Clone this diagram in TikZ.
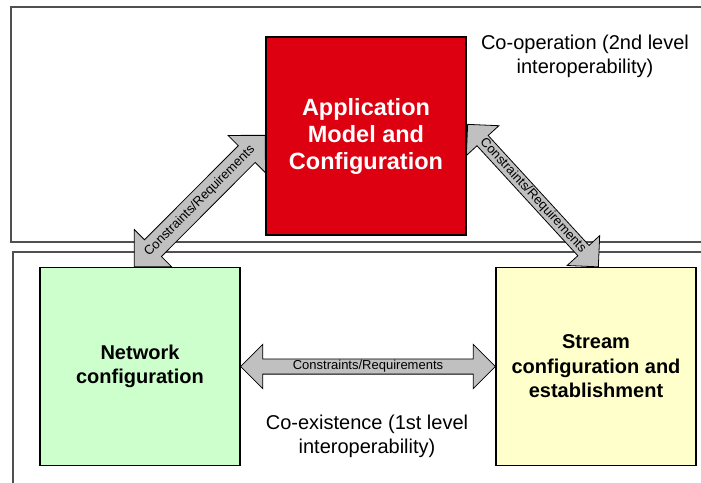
\documentclass[tikz,border=0pt]{standalone}
\usepackage{fontspec}
\setmainfont{Liberation Sans}
\usetikzlibrary{shapes.arrows,calc}
\definecolor{appred}{RGB}{221,0,17}
\definecolor{netgreen}{RGB}{204,255,204}
\definecolor{streamyellow}{RGB}{255,255,204}
\definecolor{arrowgray}{RGB}{192,192,192}
\definecolor{framegray}{RGB}{80,80,80}
\tikzset{
  frameline/.style={draw=framegray, line width=1.4pt},
  block/.style={draw=black, line width=1.3pt, minimum width=200pt, minimum height=198pt,
    align=center, inner sep=0pt, font=\fontsize{20}{24.5}\selectfont\bfseries},
  note/.style={align=center, inner sep=0pt, font=\fontsize{20}{24}\selectfont},
  biarrow/.style={double arrow, draw=black, line width=0.8pt, fill=arrowgray,
    double arrow head extend=14.5pt, double arrow tip angle=90,
    inner xsep=0pt, inner ysep=1pt, text height=9.6pt, text depth=2.8pt,
    font=\fontsize{13}{13}\selectfont},
  widearrow/.style={biarrow, inner ysep=5.3pt}
}
\begin{document}
\begin{tikzpicture}[x=1pt,y=-1pt]
  \useasboundingbox (0,0) rectangle (701,482);
  % two layer frames, open towards the right and bottom
  \draw[frameline] (702,7) -- (11,7) -- (11,242) -- (702,242);
  \draw[frameline] (702,252) -- (13,252) -- (13,483);

  % the three blocks
  \node[block, fill=appred, text=white, font=\fontsize{23.5}{27}\selectfont\bfseries]
    (app) at (366,136) {Application\\Model and\\Configuration};
  \node[block, fill=netgreen] (net) at (140,366.5) {Network\\configuration};
  \node[block, fill=streamyellow] (stream) at (596,366.5)
    {Stream\\configuration and\\establishment};

  % layer captions
  \node[note] (coop) at (585,56) {Co-operation (2nd level\\interoperability)};
  \node[note] (coex) at (367,436) {Co-existence (1st level\\interoperability)};

  % arrow end points on the block borders
  \coordinate (netTop) at ($(net.north west)+(95,0)$);
  \coordinate (appLeft) at ($(app.north west)+(0,99)$);
  \coordinate (appRight) at ($(app.north east)+(1,88)$);
  \coordinate (streamTop) at ($(stream.north west)+(103,0)$);

  % double block arrows between the blocks
  \path let \p1=(netTop), \p2=(appLeft),
    \n1={atan2(\y2-\y1,\x2-\x1)}, \n2={veclen(\x2-\x1,\y2-\y1)} in
    node[widearrow, rotate=\n1, minimum height=\n2] (cr1) at ($(netTop)!0.5!(appLeft)$)
    {Constraints/Requirements};
  \path let \p1=(appRight), \p2=(streamTop),
    \n1={atan2(\y2-\y1,\x2-\x1)}, \n2={veclen(\x2-\x1,\y2-\y1)} in
    node[biarrow, rotate=\n1, minimum height=\n2] (cr2) at ($(appRight)!0.5!(streamTop)$)
    {Constraints/Requirements};
  \path let \p1=(net.east), \p2=(stream.west),
    \n2={veclen(\x2-\x1,\y2-\y1)} in
    node[biarrow, minimum height=\n2] (cr3) at ($(net.east)!0.5!(stream.west)$)
    {Constraints/Requirements};
\end{tikzpicture}
\end{document}
